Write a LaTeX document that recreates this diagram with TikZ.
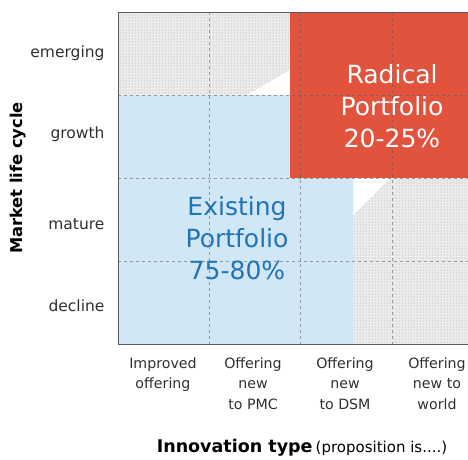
\documentclass[tikz,border=0pt]{standalone}
\usepackage{fontspec}
\setmainfont{DejaVu Sans}
\usetikzlibrary{positioning, patterns}
\definecolor{radical}{HTML}{E2533D}
\definecolor{existing}{HTML}{D2E7F5}
\definecolor{existingtext}{HTML}{1F74B8}
\definecolor{gridline}{HTML}{5A5A5A}
\definecolor{labeltext}{HTML}{2F2F2F}

\begin{document}
\begin{tikzpicture}[x=1pt, y=-1pt,
    rowlabel/.style={anchor=east, text=labeltext, font=\fontsize{15.5}{18}\selectfont},
    collabel/.style={anchor=north, align=center, text=labeltext, font=\fontsize{14.2}{20.5}\selectfont},
    portfolio/.style={align=center, font=\fontsize{25}{32}\selectfont},
    dotted area/.style={fill=gray!14, postaction={pattern=dots, pattern color=gray!85}}]
	\useasboundingbox (0,0) rectangle (468,459);
	% grey (unused) areas
	\path[dotted area] (118,12) rectangle (290,95);
	\path[dotted area] (353,178) rectangle (468,344);
	\fill[white] (247,95) -- (290,70) -- (290,95) -- cycle;
	\fill[white] (353,178) -- (390,178) -- (353,215) -- cycle;
	% portfolios
	\fill[existing] (118,95) -- (290,95) -- (290,178) -- (353,178) -- (353,344) -- (118,344) -- cycle;
	\fill[radical] (290,12) rectangle (468,178);
	% grid
	\foreach \x in {209,300,392}
		\draw[gridline, dashed, opacity=.55] (\x,12) -- (\x,344);
	\foreach \y in {95,178,261}
		\draw[gridline, dashed, opacity=.55] (118,\y) -- (468,\y);
	\draw[gridline, line width=.9pt] (468,12) -- (118,12) -- (118,344) -- (468,344);
	% labels
	\node[portfolio, text=white] (radicalp) at (392,106) {Radical\\Portfolio\\20-25\%};
	\node[portfolio, text=existingtext] (existingp) at (237,238) {Existing\\Portfolio\\75-80\%};
	\node[rowlabel] (emerging) at (108,53) {emerging};
	\node[rowlabel] (growth) at (108,134) {growth};
	\node[rowlabel] (mature) at (108,224) {mature};
	\node[rowlabel] (decline) at (108,306) {decline};
	\node[rotate=90, text=black, font=\bfseries\fontsize{16.3}{18}\selectfont] (lifecycle) at (18,178) {Market life cycle};
	\node[collabel] (improved) at (163,354) {Improved\\offering};
	\node[collabel] (topmc) at (253,354) {Offering\\new\\to PMC};
	\node[collabel] (todsm) at (345,354) {Offering\\new\\to DSM};
	\node[collabel] (toworld) at (437,354) {Offering\\new to\\world};
	\node[text=black] (innovation) at (302,448) {{\bfseries\fontsize{17.5}{20}\selectfont Innovation type} {\fontsize{15}{17}\selectfont(proposition is....)}};
\end{tikzpicture}
\end{document}
